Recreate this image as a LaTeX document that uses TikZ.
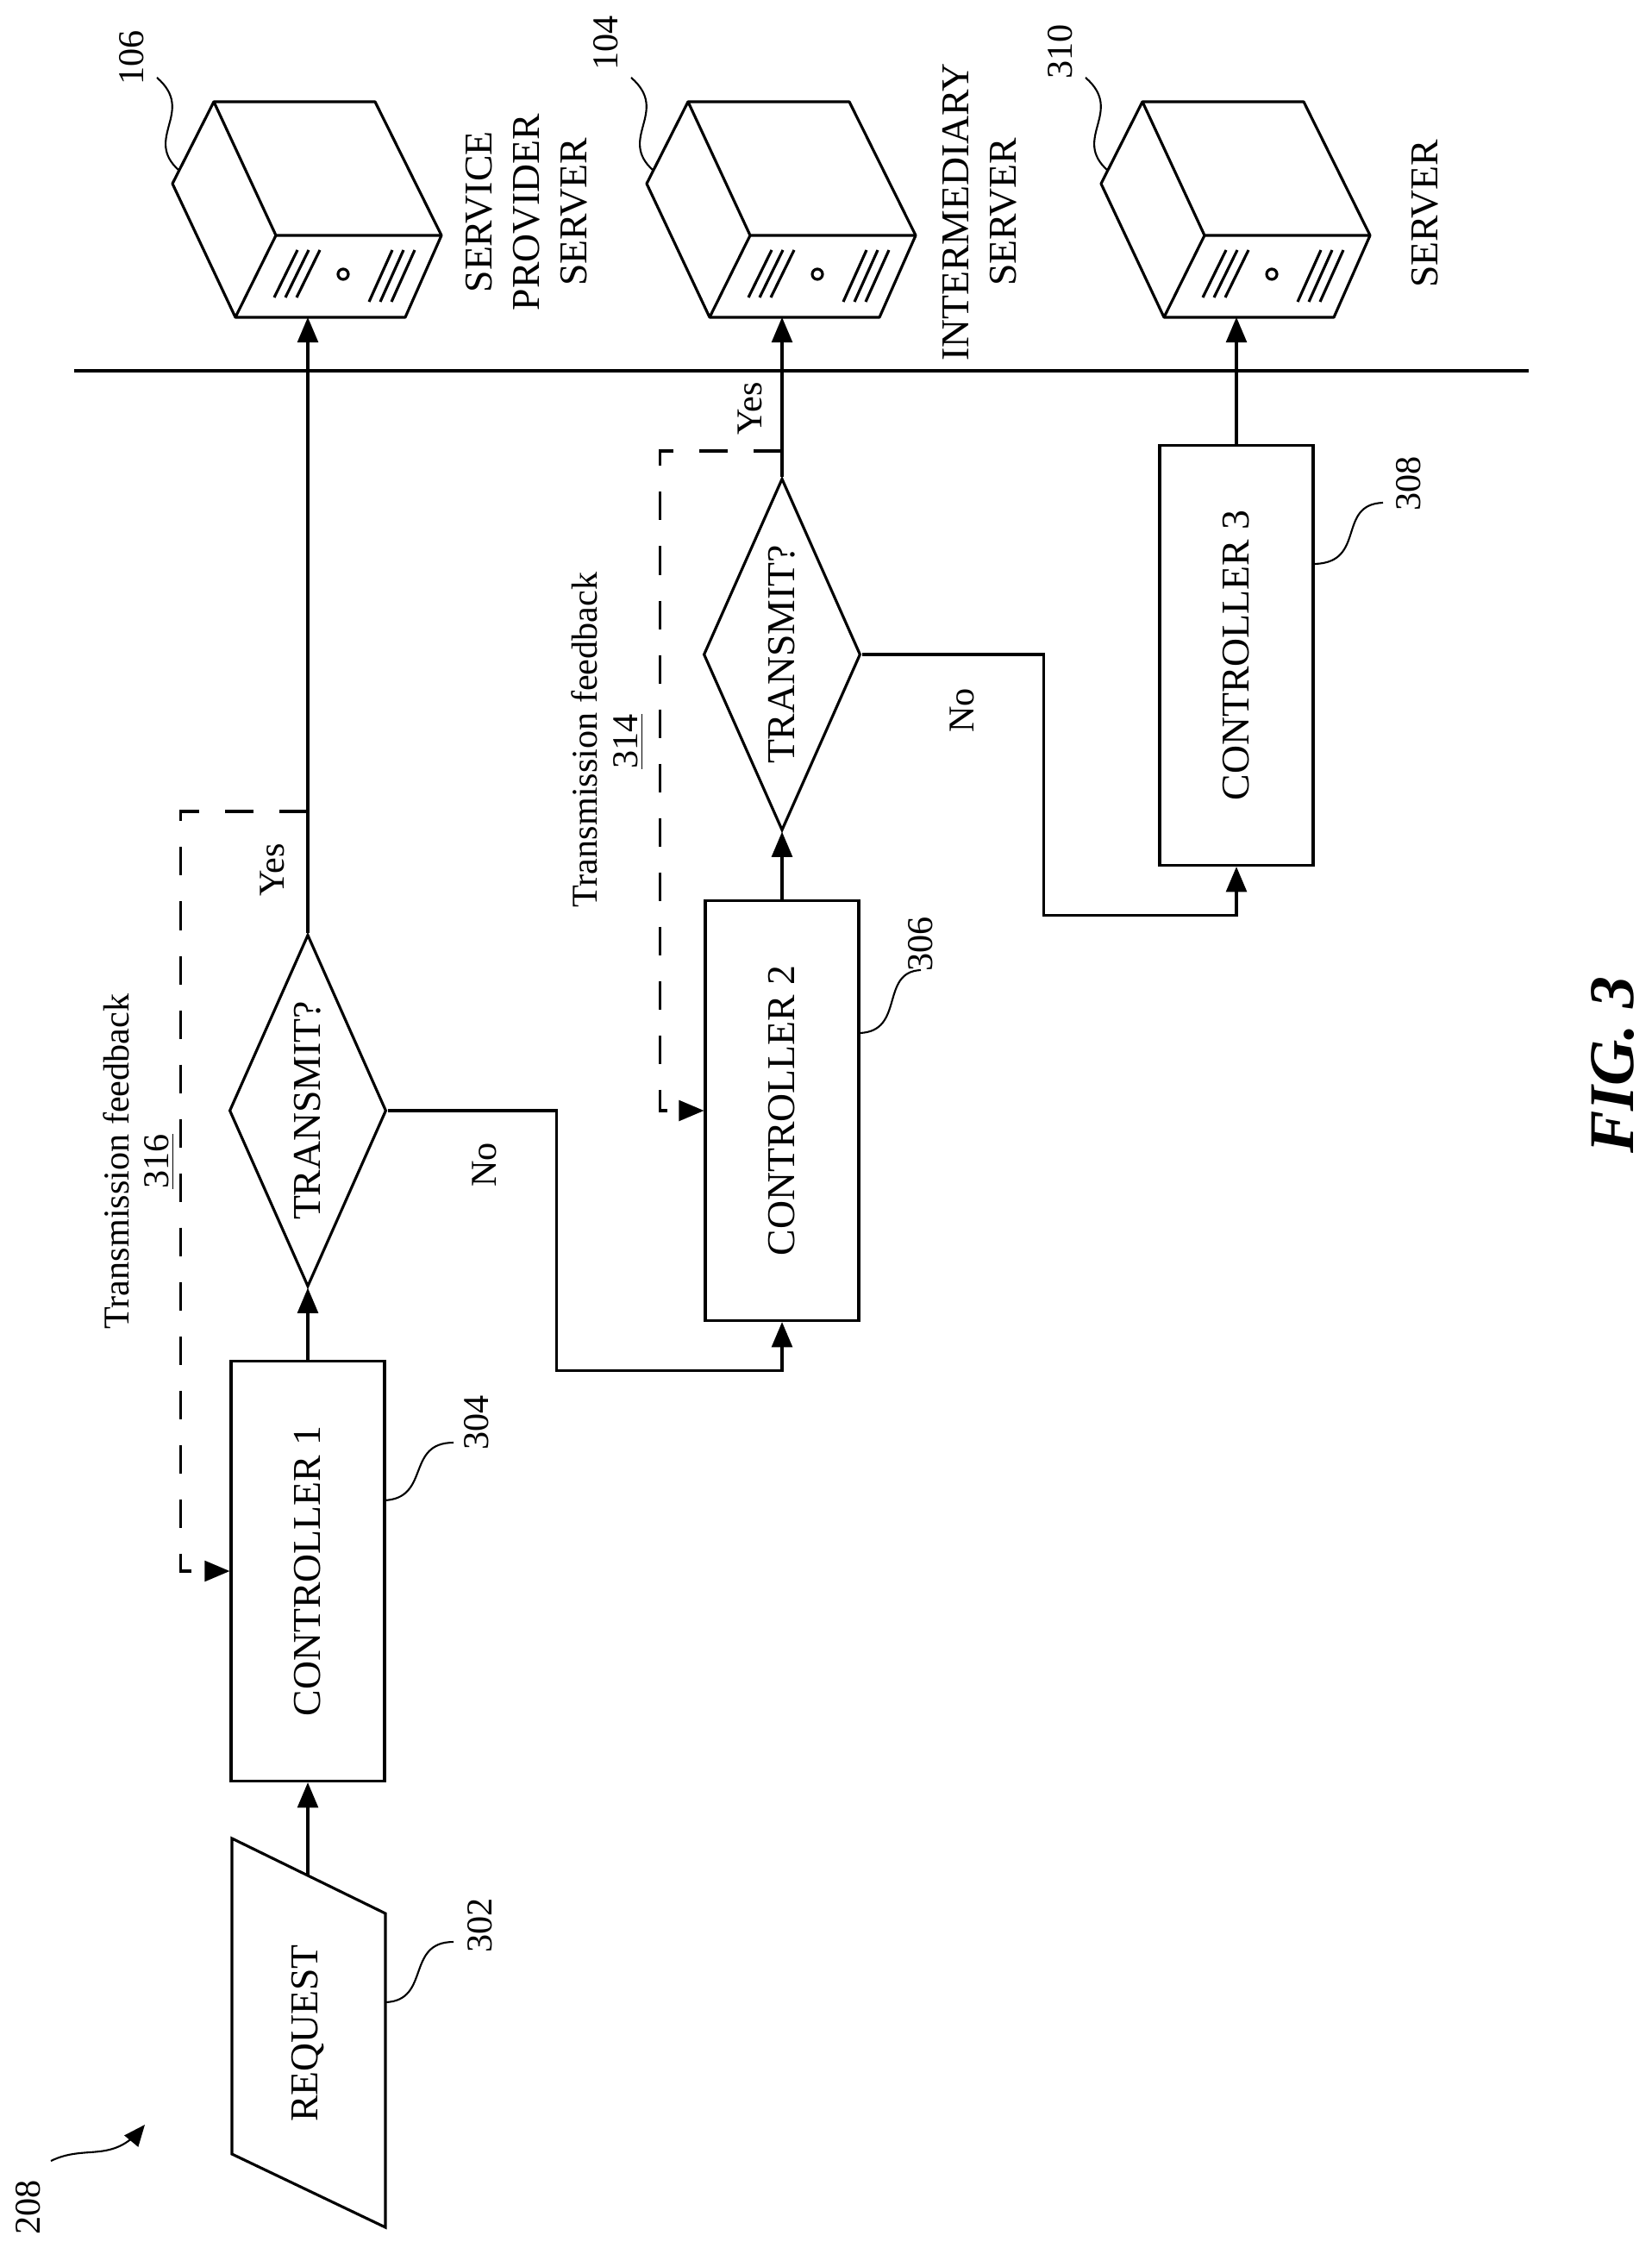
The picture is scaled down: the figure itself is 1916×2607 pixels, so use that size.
\documentclass[tikz,border=0pt]{standalone}
\usepackage{fontspec}
\setmainfont{Liberation Serif}
\usetikzlibrary{shapes.geometric, arrows, calc}

\begin{document}
\begin{tikzpicture}[
    x=0.01cm, y=-0.01cm,
    line width=0.9pt,
    ctrl/.style={rectangle, draw, rotate=90, minimum width=4.87cm, minimum height=1.78cm, font=\fontsize{13}{15}\selectfont},
    decision/.style={diamond, draw, rotate=90, aspect=2.23, inner sep=0pt, minimum width=4.08cm, minimum height=1.82cm, font=\fontsize{13}{15}\selectfont},
    lbl/.style={rotate=90, font=\fontsize{12}{14}\selectfont},
    srvlbl/.style={rotate=90, align=center, font=\fontsize{13}{15.6}\selectfont},
    arrow/.style={->, >=triangle 45},
    feedback/.style={->, >=triangle 45, dash pattern=on 0.33cm off 0.3cm},
    leader/.style={line width=0.6pt}
]
\useasboundingbox (0,0) rectangle (1916,2607);

% Servers
\foreach \dx/\nm/\num/\ly in {0/srvA/106/67, 550/srvB/104/50, 1077/srvC/310/60} {
  \begin{scope}[xshift=\dx*0.01cm]
    \draw[line join=round] (248,118) -- (435,118) -- (512,273) -- (470,368) -- (273,368) -- (200,213) -- cycle;
    \draw (248,118) -- (320,273) -- (512,273);
    \draw (320,273) -- (273,368);
    \draw (398,318) circle (6);
    \foreach \s in {0,13,26} {
      \draw (345+\s,290) -- (318+\s,345);
      \draw (455+\s,290) -- (428+\s,350);
    }
    \coordinate (\nm) at (357,368);
    \draw[leader] (182,90) .. controls (228,130) and (165,160) .. (208,198);
    \node[lbl] at (153,\ly) {\num};
  \end{scope}
}

\node[srvlbl] (spname) at (611,246) {SERVICE\\PROVIDER\\SERVER};
\node[srvlbl] (imname) at (1136,246) {INTERMEDIARY\\SERVER};
\node[srvlbl] (svname) at (1653,248) {SERVER};

% Boundary
\draw (86,430) -- (1773,430);

% Request
\draw (269,2132) -- (447,2219) -- (447,2583) -- (269,2498) -- cycle;
\node[rotate=90, font=\fontsize{13}{15}\selectfont] (request) at (357,2358) {REQUEST};
\coordinate (reqtop) at (357,2175);

% Controllers and decisions
\node[ctrl] (c1) at (357,1822) {CONTROLLER 1};
\node[decision] (d1) at (357,1288) {TRANSMIT?};
\node[ctrl] (c2) at (907,1288) {CONTROLLER 2};
\node[decision] (d2) at (907,759) {TRANSMIT?};
\node[ctrl] (c3) at (1434,760) {CONTROLLER 3};

% Arrows
\draw[arrow] (reqtop) -- (c1.west);
\draw[arrow] (c1.east) -- (d1.west);
\draw[arrow] (d1.east) -- (srvA);
\draw[arrow] (d1.south) -- ++(196,0) |- ([yshift=-0.56cm]c2.west) -- (c2.west);
\draw[arrow] (c2.east) -- (d2.west);
\draw[arrow] (d2.east) -- (srvB);
\draw[arrow] (d2.south) -- ++(211,0) |- ([yshift=-0.56cm]c3.west) -- (c3.west);
\draw[arrow] (c3.east) -- (srvC);

% Feedback
\coordinate (tap1) at (357,941);
\coordinate (tap2) at (907,523);
\draw[feedback] (tap1) -| ([xshift=-0.57cm]c1.north) -- (c1.north);
\draw[feedback] (tap2) -| ([xshift=-0.51cm]c2.north) -- (c2.north);

\node[lbl] (yes1) at (316,1009) {Yes};
\node[lbl] (yes2) at (870,474) {Yes};
\node[lbl] (no1) at (562,1351) {No};
\node[lbl] (no2) at (1116,824) {No};
\node[lbl] (fb316) at (135,1347) {Transmission feedback};
\node[lbl] (n316) at (185,1347) {\underline{316}};
\node[lbl] (fb314) at (678,858) {Transmission feedback};
\node[lbl] (n314) at (729,860) {\underline{314}};

% Reference numerals
\draw[leader] (447,2322) .. controls (500,2320) and (470,2252) .. (526,2252);
\node[lbl] (n302) at (557,2233) {302};
\draw[leader] (445,1740) .. controls (500,1738) and (470,1673) .. (526,1673);
\node[lbl] (n304) at (553,1650) {304};
\draw[leader] (997,1198) .. controls (1050,1196) and (1020,1127) .. (1068,1125);
\node[lbl] (n306) at (1068,1095) {306};
\draw[leader] (1525,654) .. controls (1585,652) and (1550,585) .. (1604,583);
\node[lbl] (n308) at (1634,561) {308};
\draw[leader, arrow] (59,2506) .. controls (100,2486) and (130,2510) .. (168,2464);
\node[lbl] (n208) at (33,2560) {208};

\node[rotate=90, font=\fontsize{21}{24}\selectfont\bfseries\itshape] (fig) at (1871,1235) {FIG. 3};
\end{tikzpicture}
\end{document}
